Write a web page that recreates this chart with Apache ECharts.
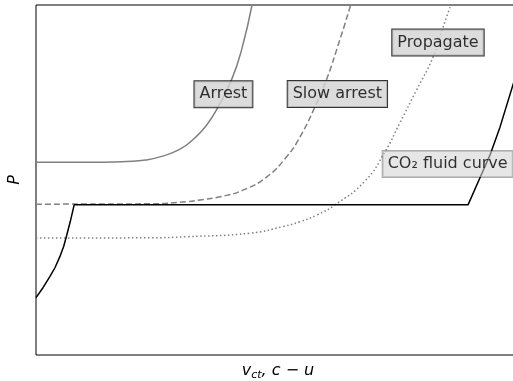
<!DOCTYPE html>
<html><head><meta charset="utf-8">
<script src="https://cdn.jsdelivr.net/npm/echarts@6/dist/echarts.min.js"></script>
<style>html,body{margin:0;padding:0;background:#fff}#c{width:513px;height:381px}</style>
</head><body><div id="c"></div>
<script>
// Curves (x: v_ct / c-u, arbitrary units; y: P, arbitrary units)
const arrest = [[0,5.51],[1.4,5.51],[1.9,5.53],[2.3,5.57],[2.6,5.66],[3.02,5.88],[3.33,6.2],[3.58,6.57],[3.82,7.09],[4.10,7.86],[4.31,8.71],[4.53,10.0]];
const slowArrest = [[0,4.31],[2.4,4.32],[3.16,4.38],[3.44,4.43],[3.86,4.52],[4.34,4.71],[4.84,5.09],[5.26,5.67],[5.54,6.24],[5.85,7.09],[6.09,7.86],[6.37,9.0],[6.60,10.0]];
const propagate = [[0,3.34],[2.4,3.35],[3.16,3.38],[4.49,3.48],[5.18,3.67],[5.54,3.81],[5.89,4.0],[6.27,4.29],[6.90,4.97],[7.32,5.81],[7.63,6.63],[7.98,7.57],[8.33,8.52],[8.54,9.38],[8.70,10.0]];
const co2Fluid = [[0,1.64],[0.15,1.93],[0.29,2.24],[0.40,2.50],[0.50,2.81],[0.58,3.10],[0.64,3.40],[0.72,3.82],[0.80,4.29],[9.06,4.29],[9.29,5.0],[9.52,5.71],[9.73,6.51],[10.0,7.71],[10.15,8.34]];
// Annotations
const labelTexts = ['Arrest','Slow arrest','Propagate','CO\u2082 fluid curve'];
const labelPos = [[3.93,7.45],[6.32,7.46],[8.43,8.93],[7.27,5.46]];

const FONT = 'DejaVu Sans';
const chart = echarts.init(document.getElementById('c'), null, {renderer:'canvas'});
const boxStyle = {show:true, position:'inside', fontFamily:FONT, fontSize:16, color:'#000', lineHeight:18,
  padding:[4,5,4,5], backgroundColor:'#d3d3d3', borderColor:'#000', borderWidth:1};
const labelData = labelTexts.map((t,i)=>{
  const lb = Object.assign({}, boxStyle, {formatter:t});
  if (i===3) {
    Object.assign(lb, {position:'right', distance:0, backgroundColor:'rgba(211,211,211,0.7)', borderColor:'rgba(0,0,0,0.4)'});
  }
  return {value:labelPos[i], label:lb};
});
const option = {
  animation:false,
  backgroundColor:'#fff',
  grid:{left:36, right:-7, top:5, bottom:26, outerBoundsMode:'none', containLabel:false, show:true, borderColor:'#000', borderWidth:1, backgroundColor:'transparent'},
  xAxis:{type:'value', min:0, max:10.15, axisLine:{show:false}, axisTick:{show:false}, axisLabel:{show:false}, splitLine:{show:false},
    name:'{i|v}{s|ct}{i|, c }{n|\u2212}{i| u}', nameLocation:'middle', nameGap:6,
    nameTextStyle:{fontFamily:FONT, fontSize:16, color:'#000', verticalAlign:'top', lineHeight:20,
      rich:{i:{fontFamily:FONT, fontStyle:'italic', fontSize:16, lineHeight:20, color:'#000'},
            n:{fontFamily:FONT, fontSize:16, lineHeight:20, color:'#000'},
            s:{fontFamily:FONT, fontStyle:'italic', fontSize:11, lineHeight:11, verticalAlign:'bottom', color:'#000'}}}},
  yAxis:{type:'value', min:0, max:10, axisLine:{show:false}, axisTick:{show:false}, axisLabel:{show:false}, splitLine:{show:false},
    name:'P', nameLocation:'middle', nameGap:13,
    nameTextStyle:{fontFamily:FONT, fontStyle:'italic', fontSize:16, color:'#000'}},
  series:[
    {type:'line', data:arrest, showSymbol:false, smooth:0.5, lineStyle:{color:'#808080', width:1.5}, z:2},
    {type:'line', data:slowArrest, showSymbol:false, smooth:0.5, lineStyle:{color:'#808080', width:1.5, type:[6,3]}, z:2},
    {type:'line', data:propagate, showSymbol:false, smooth:0.5, lineStyle:{color:'#808080', width:1.5, type:[1.5,2.5]}, z:2},
    {type:'line', data:co2Fluid, showSymbol:false, smooth:false, lineStyle:{color:'#000', width:1.5}, z:3},
    {type:'scatter', data:labelData, symbolSize:0, itemStyle:{color:'transparent'}, z:10, silent:true}
  ]
};
chart.setOption(option);
</script></body></html>
